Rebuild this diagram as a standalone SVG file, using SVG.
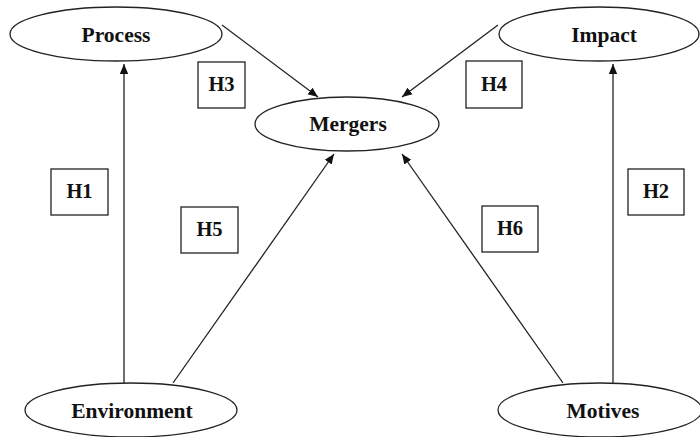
<svg xmlns="http://www.w3.org/2000/svg" width="700" height="437" viewBox="0 0 700 437">
  <defs>
    <marker id="arrow" viewBox="0 0 10 10" refX="10" refY="5" markerWidth="10" markerHeight="10" markerUnits="userSpaceOnUse" orient="auto">
      <path d="M0,0.8 L10,5 L0,9.2 Z" fill="#111"/>
    </marker>
    <style>
      .node ellipse { fill: #fff; stroke: #222; stroke-width: 1.3; }
      .node text { font-family: "Liberation Serif", "Times New Roman", serif; font-weight: bold; font-size: 21.5px; fill: #111; text-anchor: middle; }
      .edges line { stroke: #222; stroke-width: 1.3; }
      .edges line.arr { marker-end: url(#arrow); }
      .label rect { fill: #fff; stroke: #222; stroke-width: 1.3; }
      .label text { font-family: "Liberation Serif", "Times New Roman", serif; font-weight: bold; font-size: 20.5px; fill: #111; text-anchor: middle; }
    </style>
  </defs>
  <rect width="700" height="437" fill="#fff"/>

  <!-- connectors -->
  <g class="edges">
    <line class="arr" x1="124" y1="383" x2="124" y2="64"/>
    <line class="arr" x1="613" y1="383" x2="613" y2="64"/>
    <line class="arr" x1="222" y1="25" x2="318" y2="97"/>
    <line class="arr" x1="498" y1="25" x2="402" y2="97"/>
    <line class="arr" x1="173" y1="383" x2="334" y2="154"/>
    <line class="arr" x1="563" y1="383" x2="402" y2="154"/>
  </g>

  <!-- hypothesis labels -->
  <g id="h1" class="label"><rect x="51" y="169" width="57" height="46"/><text x="79.5" y="198">H1</text></g>
  <g id="h2" class="label"><rect x="628" y="169" width="56" height="46"/><text x="656" y="198">H2</text></g>
  <g id="h3" class="label"><rect x="198" y="62" width="47" height="46"/><text x="221.5" y="91">H3</text></g>
  <g id="h4" class="label"><rect x="466" y="61" width="56" height="47"/><text x="494" y="91">H4</text></g>
  <g id="h5" class="label"><rect x="181" y="207" width="57" height="46"/><text x="209.5" y="236">H5</text></g>
  <g id="h6" class="label"><rect x="482" y="206" width="56" height="46"/><text x="510" y="235">H6</text></g>

  <!-- construct nodes -->
  <g id="process" class="node"><ellipse cx="116" cy="34" rx="106" ry="27"/><text x="116" y="42">Process</text></g>
  <g id="impact" class="node"><ellipse cx="599" cy="34" rx="100" ry="27"/><text x="604" y="42">Impact</text></g>
  <g id="mergers" class="node"><ellipse cx="347" cy="124" rx="92" ry="27"/><text x="348" y="131">Mergers</text></g>
  <g id="environment" class="node"><ellipse cx="131" cy="410" rx="106" ry="27"/><text x="132" y="418">Environment</text></g>
  <g id="motives" class="node"><ellipse cx="600" cy="410" rx="102" ry="27"/><text x="603" y="418">Motives</text></g>
</svg>
